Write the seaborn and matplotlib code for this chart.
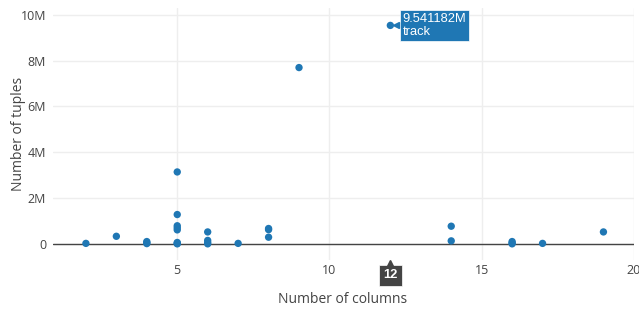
import numpy as np
import pandas as pd
import matplotlib
matplotlib.use("Agg")
import matplotlib.pyplot as plt
import matplotlib.transforms as mtransforms
from matplotlib.ticker import FuncFormatter
import seaborn as sns

# number of columns per table and number of tuples (millions)
n_columns = [2, 3, 4, 4, 4, 5, 5, 5, 5, 5, 5, 5, 5,
             6, 6, 6, 6, 7, 8, 8, 8, 9, 12, 14, 14, 16, 16, 16, 17, 19]
n_tuples_m = [0.02, 0.33, 0.10, 0.05, 0.01, 3.14, 1.28, 0.79, 0.70, 0.61, 0.06, 0.02, 0.0,
              0.52, 0.15, 0.06, 0.0, 0.02, 0.67, 0.62, 0.29, 7.70, 9.541182, 0.77, 0.13,
              0.10, 0.04, 0.0, 0.02, 0.52]
hover_value = "9.541182M"
hover_name = "track"
hover_x = 12
hover_y = 9.541182e6

df = pd.DataFrame({"cols": n_columns, "tuples": np.array(n_tuples_m) * 1e6})

sns.set_style("white")
plt.rcParams["font.family"] = ["Open Sans", "DejaVu Sans"]

fig = plt.figure(figsize=(6.39, 3.09), dpi=100)
ax = fig.add_axes([0.083, 0.159, 0.909, 0.815])

sns.scatterplot(data=df, x="cols", y="tuples", ax=ax, color="#1f77b4",
                s=28, edgecolor="none", zorder=3, clip_on=False)

ax.set_xlim(0.92, 20.0)
ax.set_ylim(-0.7e6, 10.3e6)
ax.set_xticks([5, 10, 15, 20])
ax.set_yticks([0, 2e6, 4e6, 6e6, 8e6, 10e6])
ax.yaxis.set_major_formatter(FuncFormatter(lambda v, p: "0" if v == 0 else f"{v/1e6:.0f}M"))

ax.grid(True, color="#eeeeee", linewidth=1)
ax.set_axisbelow(True)
ax.axhline(0, color="#444444", linewidth=1, zorder=2)
for s in ax.spines.values():
    s.set_visible(False)
ax.tick_params(axis="both", length=0, labelsize=9, colors="#444444")
ax.tick_params(axis="y", pad=5)
ax.tick_params(axis="x", pad=3)

ax.set_xlabel("Number of columns", fontsize=10, color="#444444")
ax.set_ylabel("Number of tuples", fontsize=10, color="#444444")
ax.xaxis.set_label_coords(0.499, -0.159)
ax.yaxis.set_label_coords(-0.060, 0.5)
ax.xaxis.label.set_va("center")
ax.yaxis.label.set_va("center")

# hover label at the max point
ax.annotate(f"{hover_value}\n{hover_name}", xy=(hover_x, hover_y), xytext=(9, 0),
            textcoords="offset points", ha="left", va="center", fontsize=9.3,
            color="white", family=["Liberation Sans", "DejaVu Sans"], linespacing=1.2,
            bbox=dict(boxstyle="square,pad=0.2", fc="#1f77b4", ec="white", lw=0.5),
            zorder=5)
ax.plot([hover_x], [hover_y], marker="<", markersize=5, color="#1f77b4",
        transform=ax.transData + mtransforms.ScaledTranslation(6/100, 0, fig.dpi_scale_trans),
        zorder=5)

# hover label on the x axis
ax.annotate(str(hover_x), xy=(hover_x, 0), xycoords=("data", "axes fraction"),
            xytext=(0, -11), textcoords="offset points", ha="center", va="center",
            fontsize=9.3, color="white", fontweight="bold",
            family=["Liberation Sans", "DejaVu Sans"],
            bbox=dict(boxstyle="square,pad=0.35", fc="#444444", ec="white", lw=0.5))
ax.plot([hover_x], [0], marker="^", markersize=5, color="#444444",
        transform=mtransforms.blended_transform_factory(ax.transData, ax.transAxes)
        + mtransforms.ScaledTranslation(0, -3/100, fig.dpi_scale_trans),
        clip_on=False, zorder=5)

fig.savefig("out.png", dpi=100)
